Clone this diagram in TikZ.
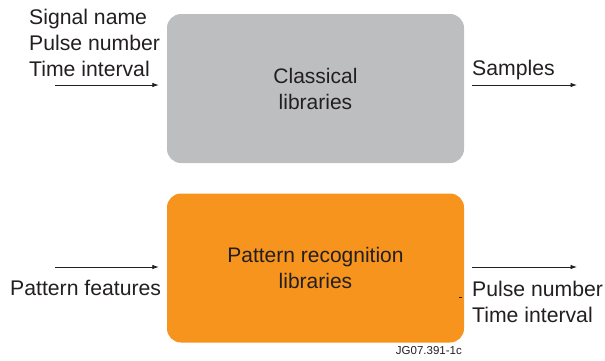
\documentclass[tikz,border=0pt]{standalone}
\usepackage{fontspec}
\setmainfont{Liberation Sans}
\usetikzlibrary{arrows.meta}
\definecolor{ink}{HTML}{231F20}
\definecolor{libgray}{HTML}{BCBEC0}
\definecolor{liborange}{HTML}{F7941D}
\begin{document}
\begin{tikzpicture}[x=1pt,y=-1pt,
  libbox/.style={rectangle, rounded corners=14pt, minimum width=297pt,
    minimum height=149pt, inner sep=0pt, align=center, text=ink,
    font=\fontsize{21}{26}\selectfont},
  lbl/.style={inner sep=0pt, anchor=base west, text=ink,
    font=\fontsize{21.2}{26}\selectfont},
  flow/.style={draw=ink, line width=0.8pt, -{Latex[length=6.5pt,width=4.5pt]}}]
\useasboundingbox (0,0) rectangle (605,360);

% library blocks
\node[libbox, fill=libgray] (cls) at (315.5,88.5) {Classical\\libraries};
\node[libbox, fill=liborange] (pat) at (315.5,268) {Pattern recognition\\libraries};

% inputs and outputs of the classical libraries
\node[lbl] (sig1) at (29,24) {Signal name};
\node[lbl] (sig2) at (29,50) {Pulse number};
\node[lbl] (sig3) at (29,76) {Time interval};
\coordinate (inA) at (55,85);
\draw[flow, shorten >=8pt] (inA) -- (inA -| cls.west);
\node[lbl] (smp) at (472,75) {Samples};
\coordinate (outA) at (577,85);
\draw[flow, shorten <=8pt] (outA -| cls.east) -- (outA);

% inputs and outputs of the pattern recognition libraries
\coordinate (inB) at (55,267);
\draw[flow, shorten >=8pt] (inB) -- (inB -| pat.west);
\node[lbl] (feat) at (10,295) {Pattern features};
\coordinate (outB) at (577,267);
\draw[flow, shorten <=8pt] (outB -| pat.east) -- (outB);
\node[lbl] (res1) at (472,296) {Pulse number};
\node[lbl] (res2) at (472,322) {Time interval};

% small tick on the orange block
\coordinate (tk) at (459,297);
\draw[ink, line width=0.6pt] (tk) -- ++(3,0);

% figure reference
\node[inner sep=0pt, anchor=base east, text=ink,
  font=\fontsize{11.5}{13}\selectfont] (ref) at (462,354) {JG07.391-1c};
\end{tikzpicture}
\end{document}
